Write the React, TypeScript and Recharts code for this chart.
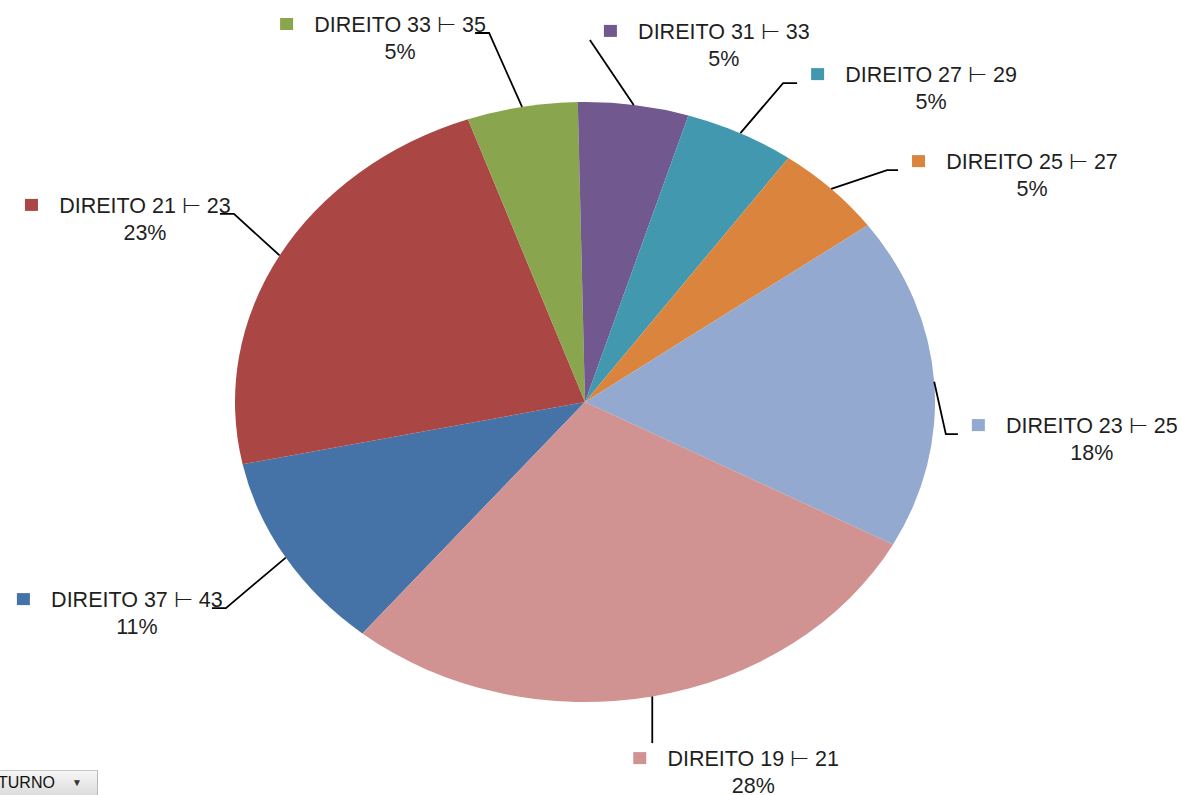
import React from 'react';
import { PieChart, Pie, Cell } from 'recharts';

// series in Excel order, shares (%)
const categories = [
  'DIREITO 37 ⊢ 43',
  'DIREITO 21 ⊢ 23',
  'DIREITO 33 ⊢ 35',
  'DIREITO 31 ⊢ 33',
  'DIREITO 27 ⊢ 29',
  'DIREITO 25 ⊢ 27',
  'DIREITO 23 ⊢ 25',
  'DIREITO 19 ⊢ 21',
];
const shares = [10.7, 22.9, 5.1, 5.1, 5.1, 5.1, 17.9, 28.1];

const colors = ['#4572A7', '#AA4643', '#89A54E', '#71588F', '#4198AF', '#DB843D', '#93A9CF', '#D19392'];

const data = categories.map((name, i) => ({ name, value: shares[i] }));

const W = 1183;
const H = 795;
const CX = 585;
const CY = 402;
const RY = 300;
const STRETCH = 350 / 300; // the picture is stretched sideways, pie is an ellipse
const TW = 172; // approx width of the first label line
const rad = Math.PI / 180;

type Side = 'left' | 'right' | 'bottom';
// elbow of each leader line, in units of the ellipse radii from the centre
const labelLayout: { elbow: [number, number]; side: Side; tail: number }[] = [
  { elbow: [-1.026, 0.687], side: 'left', tail: 14 },
  { elbow: [-1.003, -0.627], side: 'left', tail: 14 },
  { elbow: [-0.274, -1.23], side: 'left', tail: 14 },
  { elbow: [0.014, -1.207], side: 'right', tail: 0 },
  { elbow: [0.566, -1.063], side: 'right', tail: 14 },
  { elbow: [0.863, -0.773], side: 'right', tail: 11 },
  { elbow: [1.031, 0.107], side: 'right', tail: 12 },
  { elbow: [0, 1.137], side: 'bottom', tail: 0 },
];

function EllipseSector(props: any) {
  const { cx, cy, outerRadius, startAngle, endAngle, fill } = props;
  const rx = outerRadius * STRETCH;
  const ry = outerRadius;
  const pt = (a: number) => [cx + rx * Math.cos(-a * rad), cy + ry * Math.sin(-a * rad)];
  const [x0, y0] = pt(startAngle);
  const [x1, y1] = pt(endAngle);
  const large = Math.abs(endAngle - startAngle) > 180 ? 1 : 0;
  const sweep = startAngle > endAngle ? 1 : 0;
  const d = `M${cx},${cy} L${x0},${y0} A${rx},${ry} 0 ${large} ${sweep} ${x1},${y1} Z`;
  return <path d={d} fill={fill} stroke="none" />;
}

function renderLabel(props: any) {
  const { cx, cy, midAngle, outerRadius, index } = props;
  const total = shares.reduce((a, b) => a + b, 0);
  const pct = Math.round((shares[index] / total) * 100);
  const rx = outerRadius * STRETCH;
  const ry = outerRadius;
  const ex = cx + rx * Math.cos(-midAngle * rad);
  const ey = cy + ry * Math.sin(-midAngle * rad);
  const L = labelLayout[index];
  let bx = cx + L.elbow[0] * rx;
  const by = cy + L.elbow[1] * ry;

  let points = '';
  let squareLeft = 0;
  let baseline = by - 1;
  if (L.side === 'right') {
    points = `${ex},${ey} ${bx},${by} ${bx + L.tail},${by}`;
    squareLeft = bx + L.tail + 14;
  } else if (L.side === 'left') {
    points = `${ex},${ey} ${bx},${by} ${bx - L.tail},${by}`;
    squareLeft = bx - 3 - TW - 34;
  } else {
    bx = ex;
    points = `${ex},${ey} ${bx},${by}`;
    squareLeft = bx - 19;
    baseline = by + 23;
  }
  const center = squareLeft + 34 + TW / 2;

  return (
    <g key={`lbl-${index}`}>
      <polyline points={points} fill="none" stroke="#000" strokeWidth={1.8} />
      <rect x={squareLeft} y={baseline - 14} width={13} height={12} fill={colors[index]} />
      <text
        x={center}
        y={baseline}
        textAnchor="middle"
        fontFamily="'Liberation Sans', Arial, sans-serif"
        fontSize={21.5}
        fill="#1f1f1f"
      >
        {categories[index]}
      </text>
      <text
        x={center}
        y={baseline + 27}
        textAnchor="middle"
        fontFamily="'Liberation Sans', Arial, sans-serif"
        fontSize={21.5}
        fill="#1f1f1f"
      >
        {pct}%
      </text>
    </g>
  );
}

export default function App() {
  return (
    <div style={{ position: 'absolute', left: 0, top: 0, width: W, height: H, background: '#fff', overflow: 'hidden' }}>
      <PieChart width={W} height={H} margin={{ top: 0, right: 0, bottom: 0, left: 0 }}>
        <Pie
          data={data}
          dataKey="value"
          nameKey="name"
          cx={CX}
          cy={CY}
          outerRadius={RY}
          startAngle={-129.5}
          endAngle={-489.5}
          stroke="none"
          shape={EllipseSector}
          label={renderLabel}
          labelLine={false}
          isAnimationActive={false}
        >
          {data.map((entry, index) => (
            <Cell key={`cell-${index}`} fill={colors[index]} />
          ))}
        </Pie>
      </PieChart>
      <div
        style={{
          position: 'absolute',
          left: 0,
          top: 770,
          width: 98,
          height: 25,
          background: 'linear-gradient(#f6f6f6, #dcdcdc)',
          borderTop: '1px solid #c9c9c9',
          borderRight: '1px solid #b9b9b9',
          boxSizing: 'border-box',
          fontFamily: "'Liberation Sans', Arial, sans-serif",
          fontSize: 16,
          color: '#111',
          lineHeight: '24px',
        }}
      >
        <span style={{ position: 'absolute', left: -2, top: 0 }}>TURNO</span>
        <span style={{ position: 'absolute', left: 72, top: 0, fontSize: 10, color: '#333' }}>▼</span>
      </div>
    </div>
  );
}
